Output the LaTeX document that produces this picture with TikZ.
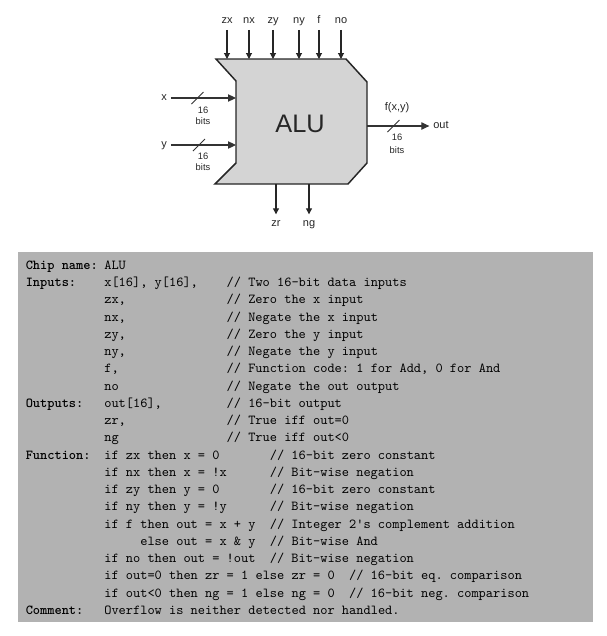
\documentclass[tikz,border=0pt]{standalone}
\usepackage{fontspec}
\setmainfont{Liberation Sans}
\setsansfont{Liberation Sans}
\usetikzlibrary{arrows.meta}
\definecolor{alufill}{gray}{0.83}
\definecolor{specbg}{gray}{0.70}
\newlength{\cw}
\setlength{\cw}{5.4pt}
\newcommand{\cmt}[3]{\makebox[#1\cw][l]{#2}#3}
\newcommand{\wcut}[1]{\draw[buscut] ([shift={(-6,6)}]#1) -- ([shift={(6,-6)}]#1);}
\tikzset{
  io/.style={font=\sffamily\fontsize{8.25}{10}\selectfont, text=black!85, inner sep=0pt, outer sep=3pt, text height=6pt, text depth=1.8pt},
  bits/.style={font=\sffamily\fontsize{7}{8.25}\selectfont, text=black!85, align=center, inner sep=0pt, anchor=north},
  sig/.style={-{Triangle[length=4.5pt,width=4.5pt]}, line width=0.8pt, draw=black!85},
  bus/.style={-{Triangle[length=6pt,width=5.5pt]}, line width=0.8pt, draw=black!80},
  buscut/.style={line width=0.6pt, draw=black!80},
  alu/.style={draw=black!85, fill=alufill, line width=1.1pt, line join=miter},
  spec/.style={font=\ttfamily\fontsize{10.29}{12.94}\selectfont\frenchspacing, inner sep=0pt}
}

\begin{document}
\begin{tikzpicture}[x=0.75pt,y=-0.75pt]
  \useasboundingbox (0,0) rectangle (607,636);
  % chip body
  \coordinate (tl) at (216,59);
  \coordinate (tr) at (346,59);
  \coordinate (rt) at (367,82);
  \coordinate (rb) at (367,163);
  \coordinate (br) at (348,184);
  \coordinate (bl) at (215,184);
  \coordinate (lb) at (236,163);
  \coordinate (lt) at (236,81);
  \draw[alu] (tl) -- (tr) -- (rt) -- (rb) -- (br) -- (bl) -- (lb) -- (lt) -- cycle;
  \node[font=\sffamily\fontsize{19}{22}\selectfont, text=black!85, inner sep=0pt] (chip) at (300,124) {ALU};
  % control bits
  \foreach \pin/\x in {zx/227,nx/249,zy/273,ny/299,f/319,no/341}{
    \node[io] (\pin) at (\x,20.7) {\pin};
    \draw[sig] (\pin) -- (\pin |- tl);
  }
  % data in and out
  \node[io] (x) at (164,98) {x};
  \node[io] (y) at (164,145) {y};
  \draw[bus] (x) -- (x -| lt);
  \draw[bus] (y) -- (y -| lt);
  \node[io] (out) at (441,126) {out};
  \node[io] (fxy) at (397,108) {f(x,y)};
  \draw[bus] (out -| rt) -- (out);
  % bus widths
  \coordinate (xc) at (197.5,98);
  \coordinate (yc) at (199,145);
  \coordinate (oc) at (393.5,126);
  \wcut{xc}
  \wcut{yc}
  \wcut{oc}
  \node[bits] (xw) at (203,106.5) {16\\bits};
  \node[bits] (yw) at (203,152.3) {16\\bits};
  \node[bits, font=\sffamily\fontsize{7}{10}\selectfont] (ow) at (397,133.3) {16\\bits};
  % flags
  \node[io] (zr) at (276,223.5) {zr};
  \node[io] (ng) at (309,223.5) {ng};
  \draw[sig] (zr |- bl) -- (zr);
  \draw[sig] (ng |- bl) -- (ng);
  % chip spec
  \fill[specbg] (18,252) rectangle (593,622);
  \node[spec, anchor=base west] (spec) at (25.5,269.3) {%
  \begin{tabular}[t]{@{}p{58.9pt}@{}l@{}}
  \textbf{Chip name:} & ALU\\
  \textbf{Inputs:} & \cmt{17}{x[16], y[16],}{// Two 16-bit data inputs}\\
  & \cmt{17}{zx,}{// Zero the x input}\\
  & \cmt{17}{nx,}{// Negate the x input}\\
  & \cmt{17}{zy,}{// Zero the y input}\\
  & \cmt{17}{ny,}{// Negate the y input}\\
  & \cmt{17}{f,}{// Function code: 1 for Add, 0 for And}\\
  & \cmt{17}{no}{// Negate the out output}\\
  \textbf{Outputs:} & \cmt{17}{out[16],}{// 16-bit output}\\
  & \cmt{17}{zr,}{// True iff out=0}\\
  & \cmt{17}{ng}{// True iff out<0}\\
  \textbf{Function:} & \cmt{23}{if zx then x = 0}{// 16-bit zero constant}\\
  & \cmt{23}{if nx then x = !x}{// Bit-wise negation}\\
  & \cmt{23}{if zy then y = 0}{// 16-bit zero constant}\\
  & \cmt{23}{if ny then y = !y}{// Bit-wise negation}\\
  & \cmt{23}{if f then out = x + y}{// Integer 2\textquotesingle s complement addition}\\
  & \cmt{23}{\hspace*{5\cw}else out = x \& y}{// Bit-wise And}\\
  & \cmt{23}{if no then out = !out}{// Bit-wise negation}\\
  & \cmt{34}{if out=0 then zr = 1 else zr = 0}{// 16-bit eq. comparison}\\
  & \cmt{34}{if out<0 then ng = 1 else ng = 0}{// 16-bit neg. comparison}\\
  \textbf{Comment:} & Overflow is neither detected nor handled.
  \end{tabular}};
\end{tikzpicture}
\end{document}
